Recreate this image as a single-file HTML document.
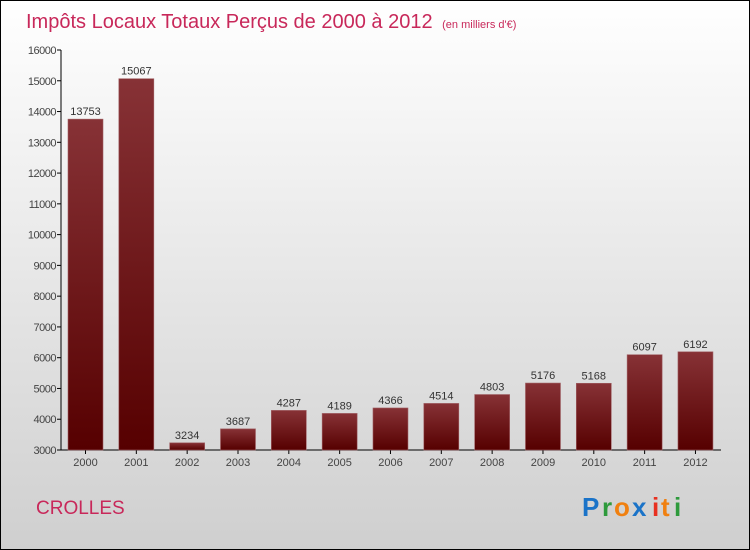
<!DOCTYPE html>
<html><head><meta charset="utf-8"><style>
body{margin:0;width:750px;height:550px;overflow:hidden;font-family:"Liberation Sans",sans-serif}
svg{display:block}
</style></head><body>
<svg width="750" height="550" xmlns="http://www.w3.org/2000/svg">
<defs>
<linearGradient id="bg" x1="0" y1="0" x2="0" y2="1"><stop offset="0" stop-color="#ffffff"/><stop offset="1" stop-color="#cfcfcf"/></linearGradient>
<linearGradient id="bar" x1="0" y1="0" x2="0" y2="1"><stop offset="0" stop-color="#873236"/><stop offset="1" stop-color="#560000"/></linearGradient>
</defs>
<rect x="0.5" y="0.5" width="749" height="549" fill="url(#bg)" stroke="#000"/>
<text x="26" y="28" font-size="20" fill="#c8285a">Impôts Locaux Totaux Perçus de 2000 à 2012 <tspan font-size="11" dx="4">(en milliers d'€)</tspan></text>
<g id="axes"></g>
<g id="bars"></g>
<text x="36" y="514" font-size="19" fill="#c8285a">CROLLES</text>
<g font-size="26" font-weight="bold">
<text x="582" y="516" fill="#1a73c8">P</text><text x="602" y="516" fill="#2e9a3c">r</text><text x="614" y="516" fill="#f08010">o</text><text x="632" y="516" fill="#1a73c8">x</text><text x="652" y="516" fill="#e83020">i</text><text x="661" y="516" fill="#f08010">t</text><text x="674" y="516" fill="#2e9a3c">i</text>
</g>
</svg>
<script>
const years=["2000","2001","2002","2003","2004","2005","2006","2007","2008","2009","2010","2011","2012"];
const values=[13753,15067,3234,3687,4287,4189,4366,4514,4803,5176,5168,6097,6192];
const yTicks=[3000,4000,5000,6000,7000,8000,9000,10000,11000,12000,13000,14000,15000,16000];
const NS="http://www.w3.org/2000/svg";
const y=v=>450-(v-3000)*400/13000;
const x=i=>85.5+i*50.83;
function mk(t,a,p){const e=document.createElementNS(NS,t);for(const k in a)e.setAttribute(k,a[k]);p.appendChild(e);return e;}
const ax=document.getElementById('axes'),bg=document.getElementById('bars');
const yl=mk('line',{x1:61,y1:50,x2:61,y2:450,stroke:'#000'},ax);


const xl=mk('line',{x1:61,y1:450,x2:721,y2:450,stroke:'#000'},ax);


yTicks.forEach(v=>{
 mk('line',{x1:57,y1:y(v),x2:61,y2:y(v),stroke:'#000'},ax);
 const t=mk('text',{x:56,y:y(v)+4,'text-anchor':'end','font-size':11,fill:'#444','letter-spacing':'-0.5'},ax);
 t.textContent=v;
 
 
});
years.forEach((yr,i)=>{
 mk('line',{x1:x(i),y1:450,x2:x(i),y2:454,stroke:'#000'},ax);
 const t=mk('text',{x:x(i),y:466,'text-anchor':'middle','font-size':11,fill:'#444'},ax);
 t.textContent=yr;
 
 
 const r=mk('rect',{x:x(i)-17.5,y:y(values[i]),width:35,height:450-y(values[i]),fill:'url(#bar)',stroke:'#a06064','stroke-width':0.6},bg);
 
 
 const l=mk('text',{x:x(i),y:y(values[i])-4,'text-anchor':'middle','font-size':11,fill:'#333'},bg);
 l.textContent=values[i];
 
 
});
</script>
</body></html>
